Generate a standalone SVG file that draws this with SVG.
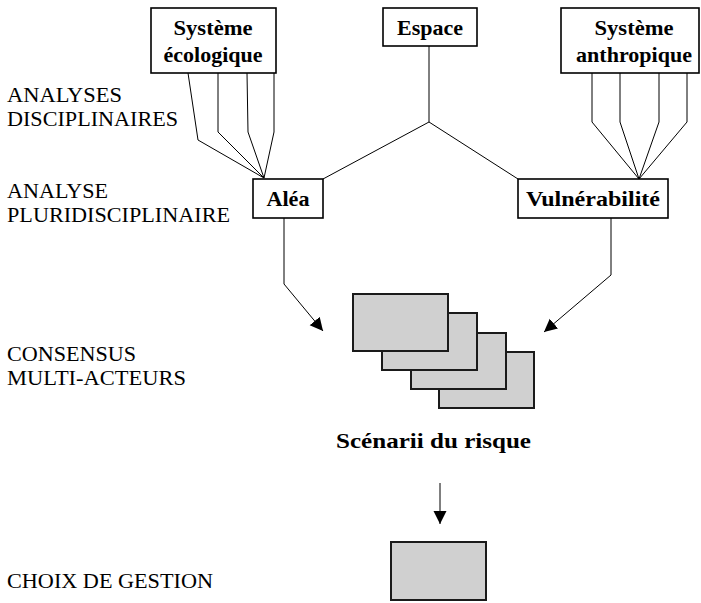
<svg xmlns="http://www.w3.org/2000/svg" width="701" height="603" viewBox="0 0 701 603">
<style>
.box{fill:#fff;stroke:#000;stroke-width:1.6}
.card{fill:#d0d0d0;stroke:#1a1a1a;stroke-width:2}
.ln{fill:none;stroke:#000;stroke-width:1}
.bl{font-family:"Liberation Serif","Times New Roman",serif;font-weight:bold;font-size:22px;fill:#000;text-anchor:middle}
.lab{font-family:"Liberation Serif","Times New Roman",serif;font-size:21px;fill:#000}
</style>
<defs>
<marker id="ah" markerWidth="14" markerHeight="14" refX="13" refY="6.5" orient="auto" markerUnits="userSpaceOnUse">
<path d="M0,0 L13,6.5 L0,13 Z" fill="#000"/>
</marker>
</defs>
<rect width="701" height="603" fill="#fff"/>

<g id="connectors">
<polyline class="ln" points="188,73 198,140 264,178"/>
<polyline class="ln" points="218,73 218,132 264,178"/>
<polyline class="ln" points="247,73 248,132 264,178"/>
<polyline class="ln" points="274,73 274,132 264,178"/>
<polyline class="ln" points="429,46 429,122"/>
<polyline class="ln" points="323,179 429,122 518,179"/>
<polyline class="ln" points="592,73 592,122 639,179"/>
<polyline class="ln" points="620,73 620,122 639,179"/>
<polyline class="ln" points="659,73 659,122 639,179"/>
<polyline class="ln" points="687,73 687,122 639,179"/>
<polyline class="ln" points="284,218 284,284 323,331" marker-end="url(#ah)"/>
<polyline class="ln" points="611,218 611,275 544,332" marker-end="url(#ah)"/>
<line class="ln" x1="440" y1="483" x2="440" y2="524" marker-end="url(#ah)"/>
</g>

<g id="systeme-ecologique">
<rect class="box" x="151" y="8" width="125" height="65"/>
<text class="bl" x="213" y="35" textLength="79" lengthAdjust="spacingAndGlyphs">Système</text>
<text class="bl" x="213" y="62" textLength="99" lengthAdjust="spacingAndGlyphs">écologique</text>
</g>

<g id="espace">
<rect class="box" x="383" y="8" width="94" height="38"/>
<text class="bl" x="430" y="35" textLength="66" lengthAdjust="spacingAndGlyphs">Espace</text>
</g>

<g id="systeme-anthropique">
<rect class="box" x="561" y="8" width="138" height="65"/>
<text class="bl" x="634" y="35" textLength="79" lengthAdjust="spacingAndGlyphs">Système</text>
<text class="bl" x="634" y="62" textLength="116" lengthAdjust="spacingAndGlyphs">anthropique</text>
</g>

<g id="alea">
<rect class="box" x="253" y="179" width="70" height="39"/>
<text class="bl" x="288" y="206" textLength="43" lengthAdjust="spacingAndGlyphs">Aléa</text>
</g>

<g id="vulnerabilite">
<rect class="box" x="518" y="179" width="150" height="39"/>
<text class="bl" x="593" y="206" textLength="134" lengthAdjust="spacingAndGlyphs">Vulnérabilité</text>
</g>

<g id="scenarii">
<rect class="card" x="439" y="352" width="95" height="56"/>
<rect class="card" x="411" y="333" width="95" height="56"/>
<rect class="card" x="382" y="313" width="95" height="57"/>
<rect class="card" x="353" y="294" width="95" height="57"/>
<text class="bl" x="433.5" y="448" textLength="195" lengthAdjust="spacingAndGlyphs">Scénarii du risque</text>
</g>

<g id="choix">
<rect class="card" x="391" y="542" width="95" height="58"/>
</g>

<g id="labels">
<text class="lab" x="7" y="102" textLength="115" lengthAdjust="spacingAndGlyphs">ANALYSES</text>
<text class="lab" x="7" y="126" textLength="171" lengthAdjust="spacingAndGlyphs">DISCIPLINAIRES</text>
<text class="lab" x="7" y="198" textLength="101" lengthAdjust="spacingAndGlyphs">ANALYSE</text>
<text class="lab" x="7" y="222" textLength="223" lengthAdjust="spacingAndGlyphs">PLURIDISCIPLINAIRE</text>
<text class="lab" x="7" y="361" textLength="129" lengthAdjust="spacingAndGlyphs">CONSENSUS</text>
<text class="lab" x="7" y="385" textLength="179" lengthAdjust="spacingAndGlyphs">MULTI-ACTEURS</text>
<text class="lab" x="7" y="588" textLength="206" lengthAdjust="spacingAndGlyphs">CHOIX DE GESTION</text>
</g>
</svg>
